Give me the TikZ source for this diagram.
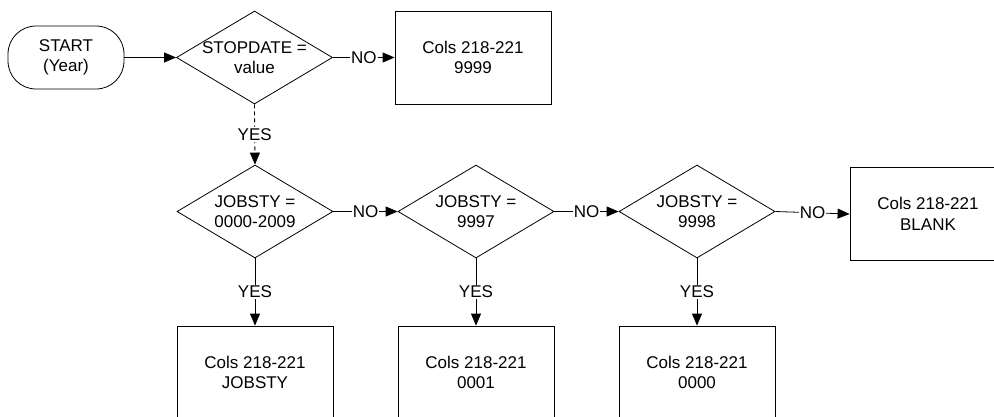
\documentclass[tikz,border=0pt]{standalone}
\usepackage{fontspec}
\setmainfont{Liberation Sans}
\usetikzlibrary{shapes.geometric,arrows.meta}
\begin{document}
\begin{tikzpicture}[x=1pt,y=-1pt,
  txt/.style={font=\fontsize{17}{20.5}\selectfont, align=center},
  dia/.style={draw, line width=0.8pt, shape=diamond, inner sep=0pt, minimum width=156pt, minimum height=93pt},
  box/.style={draw, line width=0.8pt, rectangle, minimum width=156pt, minimum height=93pt, inner sep=0pt, txt},
  term/.style={draw, line width=0.8pt, rectangle, rounded corners=28pt, minimum width=116pt, minimum height=63pt, inner sep=0pt, txt},
  lab/.style={fill=white, inner sep=1pt, txt},
  arr/.style={line width=0.8pt, -{Triangle[length=12pt,width=10pt]}},
  dashline/.style={arr, dash pattern=on 4pt off 3pt}
]
\useasboundingbox (0,0) rectangle (994,416);
\node[term] (start) at (66,57.5) {START\\(Year)};
\node[dia, label={[txt]center:{STOPDATE =\\value}}] (d1) at (254.5,57.5) {};
\node[box] (b9999) at (473,57.5) {Cols 218-221\\9999};
\node[dia, label={[txt]center:{JOBSTY =\\0000-2009}}] (d2) at (255,211.5) {};
\node[dia, label={[txt]center:{JOBSTY =\\9997}}] (d3) at (476,211.5) {};
\node[dia, label={[txt]center:{JOBSTY =\\9998}}] (d4) at (697,211.5) {};
\node[box] (bblank) at (928,214) {Cols 218-221\\BLANK};
\node[box] (bj) at (255,372.5) {Cols 218-221\\JOBSTY};
\node[box] (b0001) at (476,372.5) {Cols 218-221\\0001};
\node[box] (b0000) at (697,372.5) {Cols 218-221\\0000};

\draw[arr] (start.east) -- (d1.west);
\draw[arr] (d1.east) -- node[lab] {NO} (b9999.west);
\draw[dashline] (d1.south) -- node[lab] {YES} (d2.north);
\draw[arr] (d2.east) -- node[lab] {NO} (d3.west);
\draw[arr] (d3.east) -- node[lab] {NO} (d4.west);
\draw[arr] (d4.east) -- node[lab] {NO} (bblank.west);
\draw[arr] (d2.south) -- node[lab] {YES} (bj.north);
\draw[arr] (d3.south) -- node[lab] {YES} (b0001.north);
\draw[arr] (d4.south) -- node[lab] {YES} (b0000.north);
\end{tikzpicture}
\end{document}
